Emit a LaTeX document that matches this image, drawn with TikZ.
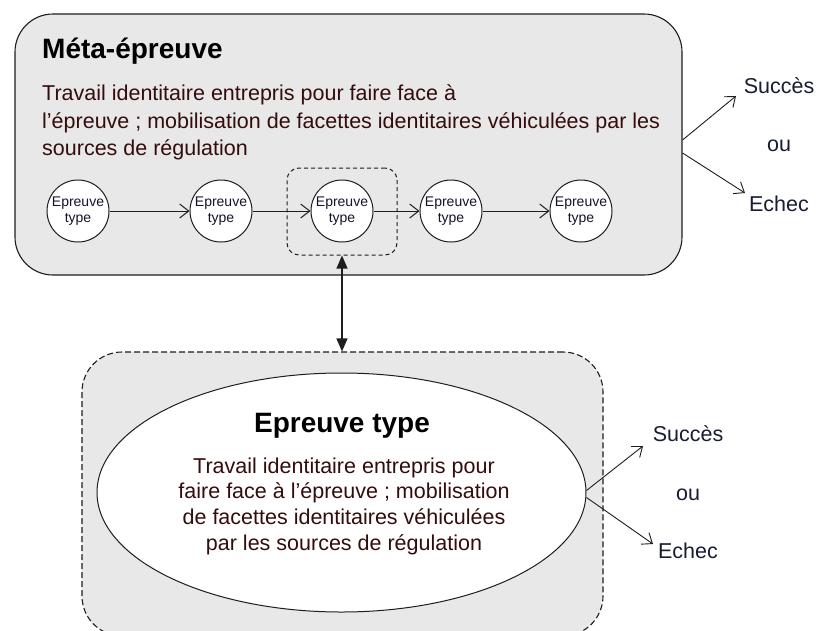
\documentclass[tikz,border=0pt]{standalone}
\usepackage{fontspec}
\setmainfont{Liberation Sans}
\usetikzlibrary{arrows.meta,shapes.geometric}
\definecolor{boxgray}{RGB}{232,232,232}
\definecolor{linegray}{RGB}{30,30,30}
\definecolor{bodyred}{RGB}{52,12,12}
\definecolor{outblue}{RGB}{24,28,52}
\definecolor{circtext}{RGB}{20,20,45}
\tikzset{
  bigbox/.style={draw=linegray, fill=boxgray, line width=1.1pt, rounded corners=38pt, inner sep=0pt},
  epcircle/.style={circle, draw=linegray, fill=white, line width=1pt, minimum size=62pt, inner sep=0pt,
    align=center, text=circtext, font=\fontsize{14}{16}\selectfont},
  selbox/.style={draw=linegray, dashed, dash pattern=on 4pt off 3pt, line width=1pt, rounded corners=12pt,
    minimum width=110pt, minimum height=87pt, inner sep=0pt},
  chain/.style={draw=linegray, line width=1pt, -{Straight Barb[length=9pt,width=14pt,line width=1pt]}},
  outarrow/.style={draw=linegray, line width=0.9pt, -{Straight Barb[length=9pt,width=14pt,line width=0.9pt]}},
  titletext/.style={font=\fontsize{28}{32}\selectfont\bfseries, inner sep=0pt},
  bodytext/.style={font=\fontsize{21.5}{27.5}\selectfont, text=bodyred, inner sep=0pt},
  outtext/.style={font=\fontsize{21.5}{26}\selectfont, text=outblue, inner sep=0pt},
}
\begin{document}
\begin{tikzpicture}[x=1pt, y=-1pt]
\clip (0,0) rectangle (817,630);
\fill[white] (0,0) rectangle (817,630);

% top box
\node[bigbox, minimum width=667pt, minimum height=261pt] (meta) at (348.5,144.5) {};
\node[titletext, anchor=base west] (metatitle) at (42,58) {Méta-épreuve};
\node[bodytext, anchor=north west, align=left] (metabody) at (42,84.5)
  {Travail identitaire entrepris pour faire face à\\
   l’épreuve ; mobilisation de facettes identitaires véhiculées par les\\
   sources de régulation};

% selection box
\node[selbox] (sel) at (342,211.5) {};

% chain of circles
\node[epcircle] (c1) at (78,211) {Epreuve\\type};
\node[epcircle] (c2) at (221,211) {Epreuve\\type};
\node[epcircle] (c3) at (342,211) {Epreuve\\type};
\node[epcircle] (c4) at (451,211) {Epreuve\\type};
\node[epcircle] (c5) at (581,211) {Epreuve\\type};
\draw[chain] (c1) -- (c2);
\draw[chain] (c2) -- (c3);
\draw[chain] (c3) -- (c4);
\draw[chain] (c4) -- (c5);

% outcomes of top box
\node[outtext] (s1) at (779,86) {Succès};
\node[outtext] (o1) at (779,146) {ou};
\node[outtext] (e1) at (779,204) {Echec};
\coordinate (s1end) at (736,96);
\coordinate (e1end) at (745,193);
\draw[outarrow] ([yshift=4.5pt]meta.east) -- (s1end);
\draw[outarrow] ([yshift=-8.5pt]meta.east) -- (e1end);

% bottom box
\node[bigbox, dashed, dash pattern=on 6pt off 3pt, rounded corners=40pt,
      minimum width=521pt, minimum height=284pt] (bot) at (342.5,494) {};
\node[ellipse, draw=linegray, fill=white, line width=1pt, minimum width=489pt, minimum height=239pt, inner sep=0pt] (ell) at (341.5,492.5) {};
\node[titletext, anchor=base] (bottitle) at (342,432) {Epreuve type};
\node[bodytext, anchor=north, align=center, font=\fontsize{21.5}{25.7}\selectfont] (botbody) at (344,457.5)
  {Travail identitaire entrepris pour\\
   faire face à l’épreuve ; mobilisation\\
   de facettes identitaires véhiculées\\
   par les sources de régulation};

% link
\draw[linegray, line width=1.1pt, {Triangle[length=13pt,width=11pt]}-{Triangle[length=13pt,width=11pt]}]
  (sel.south) -- (sel.south |- bot.north);

% outcomes of bottom
\node[outtext] (s2) at (688,434) {Succès};
\node[outtext] (o2) at (688,495) {ou};
\node[outtext] (e2) at (688,551) {Echec};
\coordinate (s2end) at (643,446);
\coordinate (e2end) at (653,544);
\draw[outarrow] ([yshift=2pt]ell.east) -- (s2end);
\draw[outarrow] ([yshift=-5pt]ell.east) -- (e2end);
\end{tikzpicture}
\end{document}
